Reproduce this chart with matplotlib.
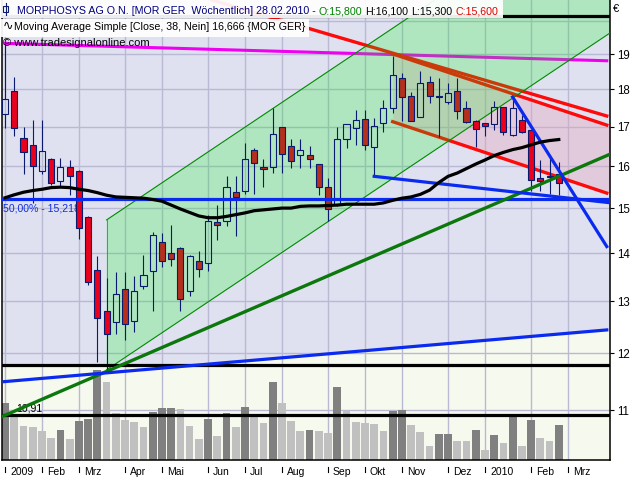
import numpy as np
import pandas as pd
import matplotlib
matplotlib.use("Agg")
import matplotlib.pyplot as plt
import matplotlib.transforms as mtransforms
from matplotlib.patches import Rectangle
from matplotlib.lines import Line2D
from matplotlib.ticker import FixedLocator, NullLocator, FuncFormatter

plt.rcParams["font.family"] = ["Liberation Sans", "DejaVu Sans"]

W, H = 640, 480

# Wochenkerzen MOR GER, Woche endet Sonntag, ab 04.01.2009
FIRST_WEEK = "2009-01-04"
OPEN = [17.33, 17.96, 16.70, 16.53, 15.87, 16.18, 15.63, 15.97, 15.88, 14.80,
        13.63, 12.80, 12.59, 13.25, 12.61, 13.30, 13.62, 14.24, 14.00, 14.10,
        13.21, 13.83, 13.79, 14.68, 14.70, 15.38, 15.39, 16.41, 15.97, 15.97,
        16.98, 16.49, 16.27, 16.27, 16.05, 15.50, 15.07, 16.68, 16.96, 17.20,
        16.47, 17.10, 17.49, 18.32, 17.82, 17.25, 18.22, 17.83, 17.65, 17.96,
        17.49, 17.15, 17.09, 17.06, 17.52, 16.77, 17.18, 16.91, 15.70, 15.75,
        15.80]
HIGH = [19.34, 18.36, 16.99, 17.18, 17.18, 16.21, 16.21, 16.15, 15.91, 14.82,
        13.94, 13.48, 13.60, 13.60, 13.51, 13.96, 14.46, 14.44, 14.62, 14.13,
        13.95, 14.05, 14.85, 15.07, 15.75, 15.75, 16.58, 16.45, 16.17, 17.49,
        16.99, 16.68, 16.68, 16.49, 16.06, 15.71, 17.00, 17.08, 17.45, 17.45,
        17.22, 17.72, 18.95, 18.47, 17.94, 18.52, 18.38, 18.33, 18.17, 18.33,
        17.69, 17.18, 17.10, 17.67, 17.53, 17.79, 17.31, 16.92, 16.14, 16.28,
        16.10]
LOW = [16.97, 16.76, 15.81, 15.12, 15.81, 15.55, 15.52, 15.31, 14.31, 13.32,
       11.84, 11.70, 12.37, 12.24, 12.40, 13.25, 12.80, 13.70, 13.72, 12.80,
       13.10, 13.49, 13.62, 14.29, 14.59, 14.38, 15.33, 15.33, 15.49, 15.84,
       15.83, 15.96, 15.96, 15.96, 15.31, 14.70, 15.05, 16.46, 16.53, 16.41,
       15.75, 16.87, 17.37, 17.15, 17.14, 17.24, 17.63, 16.74, 17.59, 17.20,
       17.10, 16.47, 16.76, 16.91, 16.79, 16.76, 16.83, 15.40, 15.40, 15.32,
       15.30]
CLOSE = [17.73, 16.96, 16.35, 16.01, 16.38, 15.58, 15.98, 15.77, 14.55, 13.39,
         12.67, 12.37, 13.14, 12.56, 13.21, 13.54, 14.40, 13.83, 13.87, 13.04,
         13.93, 13.66, 14.71, 14.62, 15.50, 15.25, 16.17, 16.07, 15.92, 16.81,
         16.30, 16.13, 16.40, 16.17, 15.50, 14.98, 16.68, 17.07, 17.18, 16.52,
         17.02, 17.49, 18.41, 17.79, 17.15, 18.17, 17.82, 17.80, 17.91, 17.42,
         17.11, 16.93, 17.02, 17.52, 16.86, 17.49, 16.86, 15.65, 15.63, 15.73,
         15.60]
VOLUME = [287, 217, 170, 165, 145, 112, 150, 105, 195, 205,
          450, 390, 235, 202, 190, 165, 240, 260, 262, 255,
          170, 105, 205, 120, 235, 165, 265, 215, 185, 390,
          285, 195, 145, 150, 145, 135, 365, 247, 190, 185,
          182, 145, 247, 249, 175, 140, 70, 130, 132, 97,
          95, 150, 50, 125, 85, 217, 70, 200, 110, 95, 175]  # Tsd. Stück
SMA38 = [15.24, 15.31, 15.37, 15.41, 15.44, 15.48, 15.49, 15.48, 15.44, 15.41,
         15.36, 15.30, 15.26, 15.25, 15.24, 15.23, 15.20, 15.16, 15.07, 14.98,
         14.90, 14.82, 14.78, 14.78, 14.81, 14.85, 14.89, 14.94, 14.96, 14.98,
         15.00, 15.00, 15.04, 15.05, 15.05, 15.06, 15.07, 15.09, 15.09, 15.09,
         15.09, 15.12, 15.18, 15.23, 15.26, 15.32, 15.42, 15.60, 15.75, 15.83,
         15.94, 16.05, 16.15, 16.26, 16.34, 16.41, 16.46, 16.53, 16.60, 16.64,
         16.666]

# Zeichenwerkzeuge: (Bar-Index, Kurs) Anfang / Ende
TL_MAGENTA = [(0, 19.32), (65.2, 18.81)]
TL_RED_1 = [(22.4, 20.65), (65.2, 17.28)]
TL_RED_2 = [(42, 19.01), (65.2, 17.04)]
TL_RED_3 = [(42, 17.13), (65.2, 15.35)]
CH_GREEN_UP = [(11, 14.73), (65.55, 24.73)]
CH_GREEN_LO = [(11, 11.70), (65.55, 19.63)]
TL_GREEN = [(-0.33, 10.89), (65.5, 16.29)]
TL_BLUE_LOW = [(-0.1, 11.49), (65.2, 12.44)]
TL_BLUE_MID = [(40, 15.75), (65.3, 15.13)]
TL_BLUE_STEEP = [(55, 17.79), (65.2, 14.14)]
FIB_50 = 15.218
H_LINES = [20.15, 11.79, 10.91]
PRICE_TICKS = [11, 12, 13, 14, 15, 16, 17, 18, 19]
MONTHS_DE = ["Jan", "Feb", "Mrz", "Apr", "Mai", "Jun", "Jul", "Aug", "Sep", "Okt", "Nov", "Dez"]

LAV = "#dfe1f0"
PALE = "#f6f9ee"
GRID = "#b9b9d4"
NAVY = "#0a1a6e"
BLUE = "#0a2af0"


def tl(seg, x):
    """Trendlinie linear in Zeit, logarithmisch im Kurs."""
    (x0, p0), (x1, p1) = seg
    return np.exp(np.log(p0) + (np.asarray(x, float) - x0) * (np.log(p1) - np.log(p0)) / (x1 - x0))


O, Hh, L, C = map(np.asarray, (OPEN, HIGH, LOW, CLOSE))
n = len(C)
idx = np.arange(n)
X0, X1 = -0.33, 65.55
Y0, Y1 = 10.187, 20.65

fig = plt.figure(figsize=(W / 100, H / 100), dpi=100)
ax = fig.add_axes([2 / W, 20 / H, 608 / W, 460 / H])
ax.set_yscale("log")
ax.set_facecolor(LAV)

# helle Zone unten
xx = np.linspace(X0 - 1, X1 + 1, 300)
ax.fill_between(xx, Y0 * 0.9, np.maximum(tl(TL_BLUE_LOW, xx), H_LINES[1]), color=PALE, lw=0, zorder=0.5)

# Gitter
for p in range(11, 21):
    ax.axhline(p, color=GRID, lw=1, zorder=0.8)

dates = pd.date_range(FIRST_WEEK, periods=n + 1, freq="W-SUN")
xticks = [i for i in range(len(dates)) if i == 0 or dates[i].month != dates[i - 1].month]
xlabels = [str(dates[i].year) if dates[i].month == 1 else MONTHS_DE[dates[i].month - 1] for i in xticks]
for i in xticks:
    ax.axvline(i, color=GRID, lw=1, zorder=0.8)

# Volumen (eigene Skala im unteren Bereich)
VOL_TOP = 2300
vol_tr = mtransforms.blended_transform_factory(
    ax.transData, mtransforms.Affine2D().scale(1, 1 / VOL_TOP) + ax.transAxes)
vol = np.asarray(VOLUME)
vcol = ["#808080" if k == 0 or vol[k] > vol[k - 1] else "#c0c0c0" for k in range(n)]
for k in range(n):
    ax.add_patch(Rectangle((k - 0.42, 0), 0.84, vol[k], transform=vol_tr,
                           facecolor=vcol[k], edgecolor="none", zorder=1.5))

# Abwärtskanal (rosa)
xr = np.linspace(TL_RED_2[0][0], X1, 100)
ax.fill_between(xr, tl(TL_RED_3, xr), tl(TL_RED_2, xr), color="#e8a0bc", alpha=0.35, lw=0, zorder=1.6)

# Magenta + rote Linien
xs = np.array([TL_MAGENTA[0][0], TL_MAGENTA[1][0]])
ax.plot(xs, tl(TL_MAGENTA, xs), color="#f000f0", lw=2.2, zorder=2)
for seg in (TL_RED_1, TL_RED_2, TL_RED_3):
    xs = np.array([seg[0][0], seg[1][0]])
    ax.plot(xs, tl(seg, xs), color="#ff0a0a", lw=2.4, zorder=2)

# Aufwärtskanal (grün)
xg = np.linspace(CH_GREEN_LO[0][0], X1, 100)
ax.fill_between(xg, tl(CH_GREEN_LO, xg), tl(CH_GREEN_UP, xg), color="#00f40c", alpha=0.21, lw=0, zorder=2.5)
ax.plot([xg[0], xg[0]], [tl(CH_GREEN_LO, xg[0]), tl(CH_GREEN_UP, xg[0])], color="#2a9a3a", lw=0.6, zorder=2.6)
for seg in (CH_GREEN_UP, CH_GREEN_LO):
    ax.plot(xg, tl(seg, xg), color="#008a00", lw=0.8, zorder=3)

ax.annotate("50,00% - 15,218", xy=(X0, FIB_50), xytext=(1, -3.5), textcoords="offset points",
            ha="left", va="top", color="#1030e0", fontsize=7.6, zorder=3)
ax.annotate("10,91", xy=(1.2, H_LINES[2]), xytext=(0, 1.2), textcoords="offset points",
            ha="left", va="bottom", color="black", fontsize=7.6, zorder=3)

# Kerzen
top = np.maximum(O, C)
bot = np.minimum(O, C)
ax.vlines(idx, top, Hh, color=NAVY, lw=0.8, zorder=3.9)
ax.vlines(idx, L, bot, color=NAVY, lw=0.8, zorder=3.9)
mid = np.sqrt(O * C)
in_green = (idx > CH_GREEN_LO[0][0]) & (mid > tl(CH_GREEN_LO, idx)) & (mid < tl(CH_GREEN_UP, idx))
faces = ["none" if C[k] >= O[k] else ("#b4301c" if in_green[k] else "#e8001c") for k in range(n)]
ax.bar(idx, np.maximum(top - bot, 0.012), bottom=bot, width=0.66, color=faces,
       edgecolor=NAVY, lw=0.8, zorder=4)

# Linien oben
for p in H_LINES:
    ax.axhline(p, color="black", lw=2.3, zorder=5)
ax.axhline(FIB_50, color=BLUE, lw=2.3, zorder=5)
xs = np.array([TL_GREEN[0][0], TL_GREEN[1][0]])
ax.plot(xs, tl(TL_GREEN, xs), color="#0c780c", lw=2.4, zorder=5)
for seg in (TL_BLUE_LOW, TL_BLUE_MID, TL_BLUE_STEEP):
    xs = np.array([seg[0][0], seg[1][0]])
    ax.plot(xs, tl(seg, xs), color=BLUE, lw=2.3, zorder=5)
ax.plot(idx, SMA38, color="black", lw=2.3, zorder=5.1)

ax.set_xlim(X0, X1)
ax.set_ylim(Y0, Y1)

# Achsen
ax.yaxis.tick_right()
ax.yaxis.set_major_locator(FixedLocator(PRICE_TICKS))
ax.yaxis.set_minor_locator(NullLocator())
ax.yaxis.set_major_formatter(FuncFormatter(lambda v, _: f"{v:.0f}"))
ax.tick_params(axis="y", direction="out", length=3, width=0.8, pad=2, labelsize=8.3, colors="black")
ax.set_xticks([])
for side in ("left", "right", "bottom"):
    ax.spines[side].set_color("black")
    ax.spines[side].set_linewidth(1.1)
ax.spines["top"].set_visible(False)

xt = ax.get_xaxis_transform()
for i, lab in zip(xticks, xlabels):
    ax.add_line(Line2D([i, i], [-0.016, -0.026], transform=xt, color="black", lw=0.8, clip_on=False))
    ax.text(i, -0.0265, lab, transform=xt + mtransforms.ScaledTranslation(5 / 100, 0, fig.dpi_scale_trans),
            ha="left", va="center", fontsize=7.5, clip_on=False)

# Kopfzeilen
px = mtransforms.IdentityTransform()
fig.add_artist(Rectangle((0, H - 18), 503, 18, transform=px, facecolor="white", alpha=0.93, edgecolor="none", zorder=2))
fig.add_artist(Rectangle((0, H - 37), 309, 18.5, transform=px, facecolor="white", alpha=0.93, edgecolor="none", zorder=2))
fig.add_artist(Rectangle((3, H - 12), 5, 6, transform=px, facecolor="none", edgecolor=NAVY, lw=0.8, zorder=3))
fig.add_artist(Line2D([5.5, 5.5], [H - 3, H - 15], transform=px, color=NAVY, lw=0.8, zorder=3))

renderer = fig.canvas.get_renderer()


def pieces(x, y, parts, size=7.7):
    for s, col in parts:
        t = fig.text(x, H - y, s, transform=px, color=col, ha="left", va="baseline", fontsize=size, zorder=4)
        x = t.get_window_extent(renderer).x1 + 3


pieces(17, 14, [("MORPHOSYS AG O.N. [MOR GER  Wöchentlich] 28.02.2010 -", "#000080"),
                ("O:15,800", "#008000"), ("H:16,100", "black"), ("L:15,300", "black"),
                ("C:15,600", "#e00000")])
pieces(3, 29.5, [("∿", "black")], size=9)
pieces(14, 29.5, [("Moving Average Simple [Close, 38, Nein] 16,666 {MOR GER}", "black")])
pieces(3, 46.5, [("© www.tradesignalonline.com", "black")], size=8)
fig.text(613, H - 9, "€", transform=px, fontsize=8, va="center", ha="left")

fig.savefig("out.png", dpi=100, facecolor="white")
